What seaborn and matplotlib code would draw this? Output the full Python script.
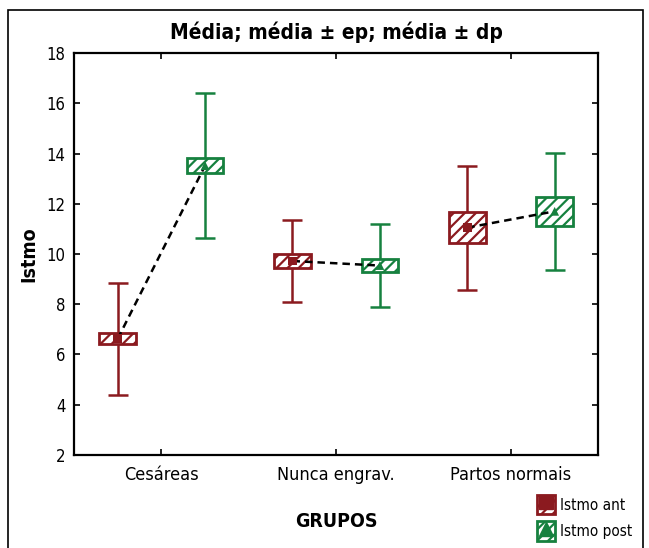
import matplotlib
matplotlib.use("Agg")
import matplotlib.pyplot as plt
from matplotlib.patches import Rectangle
from matplotlib.lines import Line2D
import numpy as np
import pandas as pd
import seaborn as sns

groups = ["Cesáreas", "Nunca engrav.", "Partos normais"]
series = ["Istmo ant", "Istmo post"]
mean_ant = [6.62, 9.72, 11.05]
se_ant = [0.22, 0.28, 0.62]
sd_ant = [2.22, 1.64, 2.47]
mean_post = [13.52, 9.54, 11.70]
se_post = [0.30, 0.26, 0.58]
sd_post = [2.88, 1.64, 2.34]

colors = {"Istmo ant": "#8b1a1f", "Istmo post": "#16813f"}
markers = {"Istmo ant": "s", "Istmo post": "^"}
offsets = {"Istmo ant": -0.25, "Istmo post": 0.25}

df = pd.DataFrame({
    "grupo": groups * 2,
    "serie": [series[0]] * 3 + [series[1]] * 3,
    "media": mean_ant + mean_post,
    "ep": se_ant + se_post,
    "dp": sd_ant + sd_post,
})
df["x"] = [groups.index(g) + offsets[s] for g, s in zip(df["grupo"], df["serie"])]

sns.set_style("ticks")
plt.rcParams["font.family"] = ["DejaVu Sans"]
plt.rcParams["font.stretch"] = "condensed"
plt.rcParams["text.color"] = "black"
plt.rcParams["axes.labelcolor"] = "black"
plt.rcParams["xtick.color"] = "black"
plt.rcParams["ytick.color"] = "black"
plt.rcParams["hatch.linewidth"] = 1.6

fig = plt.figure(figsize=(6.49, 5.48), dpi=100)
ax = fig.add_axes([0.114, 0.170, 0.808, 0.733])

# dashed connecting lines within each group
for g in groups:
    sub = df[df["grupo"] == g]
    ax.plot(sub["x"], sub["media"], ls=(0, (3, 2)), color="black", lw=1.8, zorder=4)

box_w = 0.21
for _, r in df.iterrows():
    c = colors[r["serie"]]
    ax.errorbar(r["x"], r["media"], yerr=r["dp"], fmt="none", ecolor=c,
                elinewidth=1.8, capsize=7.5, capthick=1.8, zorder=2)
    ax.add_patch(Rectangle((r["x"] - box_w / 2, r["media"] - r["ep"]), box_w, 2 * r["ep"],
                           facecolor="white", edgecolor=c, hatch="///", lw=2, zorder=3))

sns.scatterplot(data=df, x="x", y="media", hue="serie", style="serie",
                palette=colors, markers=markers, s=40, edgecolor="none",
                ax=ax, legend=False, zorder=5)

ax.set_xlim(-0.5, 2.5)
ax.set_ylim(2, 18)
ax.set_xticks(range(len(groups)))
ax.set_xticklabels(groups, fontsize=13)
ax.set_yticks(np.arange(2, 19, 2))
ax.tick_params(axis="y", labelsize=12)
ax.tick_params(direction="in", length=4, width=1.2, top=True, right=True, pad=6)
ax.tick_params(axis="x", pad=8)
for sp in ax.spines.values():
    sp.set_linewidth(1.6)
    sp.set_edgecolor("black")
    sp.set_visible(True)

ax.set_xlabel("GRUPOS", fontsize=14, fontweight="bold", labelpad=20)
ax.set_ylabel("Istmo", fontsize=14, fontweight="bold", labelpad=6)
ax.set_title("Média; média ± ep; média ± dp", fontsize=15, fontweight="bold", pad=10)

handles = []
for s in series:
    c = colors[s]
    patch = Rectangle((0, 0), 1, 1, facecolor="white", edgecolor=c, hatch="///", lw=2)
    mk = Line2D([], [], marker=markers[s], color=c, ls="none", markersize=10)
    handles.append((patch, mk))
fig.legend(handles, series, loc="lower right", bbox_to_anchor=(0.995, -0.012),
           frameon=False, fontsize=11, handlelength=1.2, handleheight=1.6,
           handletextpad=0.3, labelspacing=0.45)

fig.add_artist(Rectangle((8 / 649, -0.05), 635 / 649, 1.05 - 10 / 548,
                         transform=fig.transFigure, fill=False, edgecolor="black",
                         lw=1.2))

fig.savefig("out.png", dpi=100)
plt.close(fig)
